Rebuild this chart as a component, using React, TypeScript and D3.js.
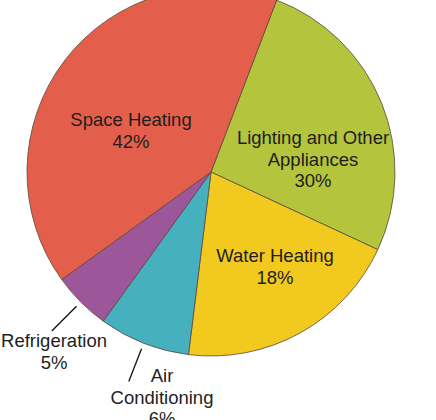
import React from 'react';
import * as d3 from 'd3';

// slices in clockwise order, starting at the Space Heating / Lighting edge
const categories = ['Lighting and Other Appliances', 'Water Heating', 'Air Conditioning', 'Refrigeration', 'Space Heating'];
// slice sizes as drawn in the picture (the printed percentages are below)
const shares = [26.1, 20.0, 8.0, 5.1, 40.7];
const percents = ['30%', '18%', '6%', '5%', '42%'];
const labelLines = [
  ['Lighting and Other', 'Appliances'],
  ['Water Heating'],
  ['Air', 'Conditioning'],
  ['Refrigeration'],
  ['Space Heating'],
];
const colors = ['#b4c43c', '#f2c91e', '#47b0be', '#9c5699', '#e45f4b'];

// which slices get an outside label with a leader line
const outside = [false, false, true, true, false];

const width = 436;
const height = 420;
const cx = 211;
const cy = 172;
const radius = 184;
const startDeg = 20.9;
const fontSize = 18.5;
const lineHeight = 21.5;

// label anchor (text centre, first baseline) relative to the pie centre
const labelOffset: [number, number][] = [
  [102, -28],
  [64, 90],
  [-49, 210],
  [-157, 175],
  [-80, -46],
];

type Slice = d3.PieArcDatum<number>;

const App: React.FC = () => {
  const pie = d3.pie<number>()
    .sort(null)
    .value(d => d)
    .startAngle((startDeg * Math.PI) / 180)
    .endAngle((startDeg * Math.PI) / 180 + 2 * Math.PI);

  const arcs = pie(shares);

  const arc = d3.arc<Slice>().innerRadius(0).outerRadius(radius);
  const at = (r: number) => d3.arc<Slice>().innerRadius(r).outerRadius(r);

  return (
    <svg
      width={width}
      height={height}
      viewBox={`0 0 ${width} ${height}`}
      style={{ position: 'absolute', left: 0, top: 0, background: '#fff' }}
    >
      <g transform={`translate(${cx},${cy})`}>
        {arcs.map((a, i) => (
          <path
            key={categories[i]}
            d={arc(a) as string}
            fill={colors[i]}
            stroke="#5b4a3c"
            strokeWidth={0.8}
            strokeLinejoin="round"
          />
        ))}

        {arcs.map((a, i) => {
          if (!outside[i]) return null;
          const [x1, y1] = at(radius + 6).centroid(a);
          const [x2, y2] = at(radius + 41).centroid(a);
          return (
            <line key={'l' + i} x1={x1} y1={y1} x2={x2} y2={y2} stroke="#111" strokeWidth={1.3} />
          );
        })}

        {arcs.map((a, i) => {
          const [x, y] = labelOffset[i];
          const lines = [...labelLines[i], percents[i]];
          return (
            <text
              key={'t' + i}
              x={x}
              y={y}
              textAnchor="middle"
              fontFamily="'Liberation Sans', Arial, sans-serif"
              fontSize={fontSize}
              fill="#1e1e1e"
            >
              {lines.map((s, j) => (
                <tspan key={j} x={x} dy={j === 0 ? 0 : lineHeight}>
                  {s}
                </tspan>
              ))}
            </text>
          );
        })}
      </g>
    </svg>
  );
};

export default App;
